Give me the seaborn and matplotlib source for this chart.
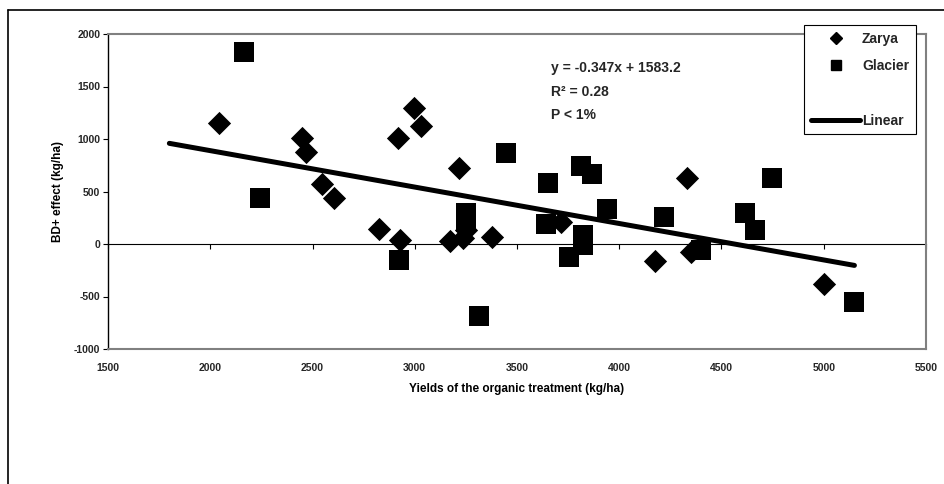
import pandas as pd
import seaborn as sns
import matplotlib.pyplot as plt
from matplotlib.lines import Line2D

# values
zarya_yield = [2045, 2450, 2468, 2547, 2605, 2825, 2916, 2927, 2996, 3033,
               3172, 3216, 3237, 3250, 3378, 3717, 4174, 4331, 4353, 5000]
zarya_effect = [1155, 1005, 880, 570, 435, 140, 1005, 35, 1300, 1120,
                30, 720, 55, 130, 70, 210, -165, 630, -75, -380]

glacier_yield = [2165, 2244, 2924, 3250, 3250, 3315, 3444, 3641, 3652, 3755, 3815,
                 3825, 3825, 3865, 3942, 4217, 4398, 4613, 4662, 4745, 5148]
glacier_effect = [1830, 435, -150, 300, 210, -690, 865, 190, 580, -120, 740,
                  90, -10, 670, 330, 260, -55, 300, 130, 630, -550]

slope = -0.347
intercept = 1583.2
trend_range = [1800, 5150]

x_ticks = [1500, 2000, 2500, 3000, 3500, 4000, 4500, 5000, 5500]
y_ticks = [-1000, -500, 0, 500, 1000, 1500, 2000]

sns.set_theme(style="white")
plt.rcParams["font.family"] = ["Liberation Sans", "DejaVu Sans"]
plt.rcParams["font.weight"] = "bold"
plt.rcParams["axes.unicode_minus"] = False

df = pd.DataFrame({
    "yield": zarya_yield + glacier_yield,
    "effect": zarya_effect + glacier_effect,
    "variety": ["Zarya"] * len(zarya_yield) + ["Glacier"] * len(glacier_yield),
})
trend = pd.DataFrame({"x": trend_range})
trend["y"] = slope * trend["x"] + intercept

fig = plt.figure(figsize=(9.45, 4.84), dpi=100)
ax = fig.add_axes([108 / 945, 1 - 349 / 484, 818 / 945, 315 / 484])

sns.scatterplot(data=df[df.variety == "Zarya"], x="yield", y="effect",
                marker="D", s=140, color="black", linewidth=0, ax=ax, legend=False)
sns.scatterplot(data=df[df.variety == "Glacier"], x="yield", y="effect",
                marker="s", s=225, color="black", linewidth=0, ax=ax, legend=False)
sns.lineplot(data=trend, x="x", y="y", color="black", linewidth=3.6,
             solid_capstyle="round", ax=ax)

ax.set_xlim(1500, 5500)
ax.set_ylim(-1000, 2000)
ax.set_xticks(x_ticks)
ax.set_yticks(y_ticks)
ax.tick_params(axis="x", bottom=False, length=0, pad=10, labelsize=7.5)
ax.tick_params(axis="y", left=True, direction="out", length=3.5, width=0.8,
               color="black", pad=2, labelsize=7.5)
for lab in ax.get_xticklabels() + ax.get_yticklabels():
    lab.set_fontweight("bold")

for side in ["top", "right", "bottom"]:
    ax.spines[side].set_color("#808080")
    ax.spines[side].set_linewidth(1.5)
ax.spines["left"].set_color("black")
ax.spines["left"].set_linewidth(1.0)

# zero line with tick marks
zero_pos = (0 - y_ticks[0]) / (y_ticks[-1] - y_ticks[0])
sec = ax.secondary_xaxis(zero_pos)
sec.set_xticks(x_ticks)
sec.tick_params(axis="x", bottom=True, direction="out", length=3.5, width=0.8,
                color="black", labelbottom=False)
sec.spines["bottom"].set_color("black")
sec.spines["bottom"].set_linewidth(0.8)

ax.set_xlabel("Yields of the organic treatment (kg/ha)", fontsize=8.5,
              fontweight="bold", labelpad=7, color="black")
ax.set_ylabel("BD+ effect (kg/ha)", fontsize=8.5, fontweight="bold",
              labelpad=7, color="black")

# regression annotation
ax.text(0.5416, 0.893, f"y = {slope}x + {intercept}", transform=ax.transAxes,
        ha="left", va="center", fontsize=10, fontweight="bold")
ax.text(0.5416, 0.817, "R² = 0.28", transform=ax.transAxes,
        ha="left", va="center", fontsize=10, fontweight="bold")
ax.text(0.5416, 0.743, "P < 1%", transform=ax.transAxes,
        ha="left", va="center", fontsize=10, fontweight="bold")

handles = [
    Line2D([], [], marker="D", color="black", linestyle="", markersize=6.5),
    Line2D([], [], marker="s", color="black", linestyle="", markersize=7.5),
    Line2D([], [], linestyle="", marker=""),
    Line2D([], [], color="black", linewidth=3.6, solid_capstyle="round"),
]
leg = ax.legend(handles, ["Zarya", "Glacier", " ", "Linear"], loc="upper right",
                bbox_to_anchor=(916 / 945, 1 - 25 / 484), bbox_transform=fig.transFigure,
                frameon=True, fancybox=False, edgecolor="black", framealpha=1,
                fontsize=10, handlelength=3.5, handletextpad=0.15, borderpad=0.5,
                labelspacing=0.95, borderaxespad=0)
leg.get_frame().set_linewidth(0.8)
for t in leg.get_texts():
    t.set_fontweight("bold")

# outer chart frame
fig.add_artist(Line2D([8 / 945, 8 / 945], [0, 1 - 10 / 484], transform=fig.transFigure,
                      color="black", linewidth=1.2))
fig.add_artist(Line2D([8 / 945, 1], [1 - 10 / 484, 1 - 10 / 484], transform=fig.transFigure,
                      color="black", linewidth=1.2))

fig.savefig("out.png", dpi=100)
